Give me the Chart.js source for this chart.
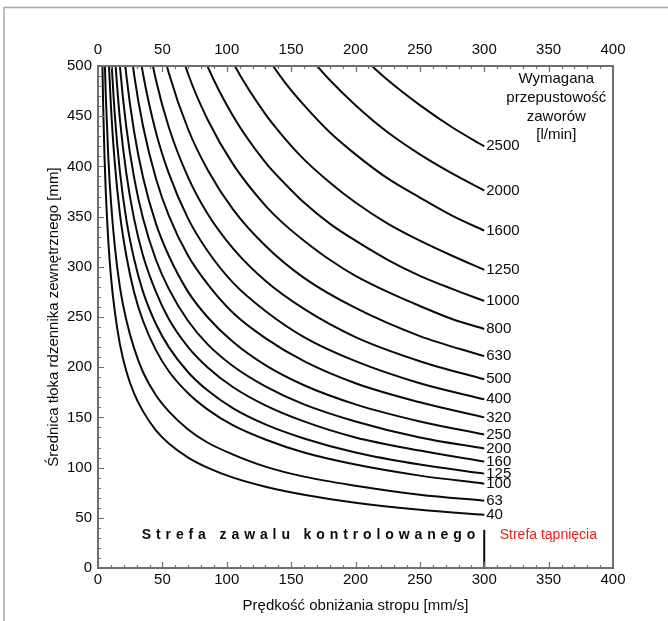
<!DOCTYPE html>
<html>
<head>
<meta charset="utf-8">
<script src="https://cdn.jsdelivr.net/npm/chart.js@4.4.1/dist/chart.umd.min.js"></script>
<style>
  html, body { margin: 0; padding: 0; background: #fff; }
  #wrap { width: 668px; height: 621px; }
</style>
</head>
<body>
<div id="wrap"><canvas id="chart" width="668" height="621"></canvas></div>
<script>
// ── Data ─────────────────────────────────────────────────
// speeds [mm/s] where the diameters were read
const speeds = [3, 4, 5, 6, 8, 10, 13, 17, 22, 28, 35, 45, 55, 70, 85, 105, 130, 145, 160, 180, 200, 225, 250, 275, 300];

// required valve flow [l/min] for each curve
const flows = [40, 63, 100, 125, 160, 200, 250, 320, 400, 500, 630, 800, 1000, 1250, 1600, 2000, 2500];

// piston diameter [mm] along each curve (null = not read there)
const d40   = [532, 461, 412, 376, 326, 291, 256, 223, 196, 174, 156, 137, 124, 110, 100, 90, 81, null, 73, null, 65, null, 58, null, 53];
const d63   = [null, 578, 517, 472, 409, 366, 321, 280, 247, 219, 195, 172, 156, 138, 125, 113, 101, null, 91, null, 82, null, 73, null, 67];
const d100  = [null, null, null, null, 515, 461, 404, 353, 311, 275, 246, 217, 196, 174, 158, 142, 128, null, 115, null, 103, null, 92, null, 84];
const d125  = [null, null, null, null, null, 515, 452, 395, 347, 308, 275, 243, 220, 195, 177, 159, 143, null, 129, null, 115, null, 103, null, 94];
const d160  = [null, null, null, null, null, null, 511, 447, 393, 348, 311, 275, 248, 220, 200, 180, 162, null, 146, null, 130, null, 117, null, 106];
const d200  = [null, null, null, null, null, null, 571, 500, 439, 389, 348, 307, 278, 246, 223, 201, 181, null, 163, null, 146, null, 130, null, 119];
const d250  = [null, null, null, null, null, null, null, 559, 491, 435, 389, 343, 311, 275, 250, 225, 202, null, 182, null, 163, null, 146, null, 133];
const d320  = [null, null, null, null, null, null, null, null, 556, 492, 440, 388, 351, 311, 283, 254, 229, null, 206, null, 184, null, 165, null, 150];
const d400  = [null, null, null, null, null, null, null, null, null, 551, 492, 434, 393, 348, 316, 284, 256, null, 230, null, 206, null, 184, null, 168];
const d500  = [null, null, null, null, null, null, null, null, null, null, 551, 486, 439, 389, 353, 318, 286, null, 258, null, 230, null, 206, null, 188];
const d630  = [null, null, null, null, null, null, null, null, null, null, null, 545, 493, 437, 397, 357, 321, null, 289, null, 259, null, 231, null, 211];
const d800  = [null, null, null, null, null, null, null, null, null, null, null, null, 556, 492, 447, 402, 361, 342, 326, 307, 291, 275, 261, 248, 238];
const d1000 = [null, null, null, null, null, null, null, null, null, null, null, null, null, 551, 500, 450, 404, 383, 364, 343, 326, 307, 291, 278, 266];
const d1250 = [null, null, null, null, null, null, null, null, null, null, null, null, null, null, 559, 503, 452, 428, 407, 384, 364, 343, 326, 311, 297];
const d1600 = [null, null, null, null, null, null, null, null, null, null, null, null, null, null, null, null, 511, 484, 461, 434, 412, 388, 369, 351, 336];
const d2000 = [null, null, null, null, null, null, null, null, null, null, null, null, null, null, null, null, null, null, 515, 486, 461, 434, 412, 393, 376];
const d2500 = [null, null, null, null, null, null, null, null, null, null, null, null, null, null, null, null, null, null, null, null, 515, 486, 461, 439, 420];

const diameters = [d40, d63, d100, d125, d160, d200, d250, d320, d400, d500, d630, d800, d1000, d1250, d1600, d2000, d2500];

// boundary between the two zones
const zoneSpeed  = [300, 300];
const zoneHeight = [0, 38];

const xTicks = [0, 400, 50];   // min, max, step
const yTicks = [0, 500, 50];

// ── Styling ───────────────────────────────────────────────
const FONT  = "'Liberation Sans', Arial, sans-serif";
const FRAME = "#6e6e6e";
const INK   = "#0a0a0a";

const toPoints = (ys) => speeds
  .map((v, i) => ({ x: v, y: ys[i] }))
  .filter(p => p.y !== null);

const datasets = diameters.map((ys, i) => ({
  label: String(flows[i]),
  data: toPoints(ys),
  borderColor: INK,
  borderWidth: 2,
  pointRadius: 0,
  cubicInterpolationMode: "monotone",
  fill: false,
}));

datasets.push({
  label: "zone",
  data: zoneSpeed.map((v, i) => ({ x: v, y: zoneHeight[i] })),
  borderColor: INK,
  borderWidth: 2,
  pointRadius: 0,
  fill: false,
});

// ── Frame, inward ticks and annotations ──────────────────
const nomogramDecor = {
  id: "nomogramDecor",
  beforeDraw(chart) {
    const { ctx, width, height } = chart;
    ctx.save();
    ctx.fillStyle = "#fff";
    ctx.fillRect(0, 0, width, height);
    ctx.strokeStyle = "#a8a8a8";
    ctx.lineWidth = 1.5;
    ctx.beginPath();
    ctx.moveTo(4, height);
    ctx.lineTo(4, 7.5);
    ctx.lineTo(width, 7.5);
    ctx.stroke();
    ctx.restore();
  },
  afterDatasetsDraw(chart) {
    const { ctx, chartArea: a, scales: { x, y } } = chart;
    ctx.save();

    // curve labels at the end of each curve
    ctx.fillStyle = INK;
    ctx.font = `15px ${FONT}`;
    ctx.textAlign = "left";
    ctx.textBaseline = "middle";
    diameters.forEach((ys, i) => {
      const last = ys[ys.length - 1];
      const px = x.getPixelForValue(speeds[speeds.length - 1]) + 2;
      const py = y.getPixelForValue(last);
      ctx.fillText(String(flows[i]), px, py);
    });

    // legend heading
    ctx.textAlign = "center";
    const hx = x.getPixelForValue(356);
    let hy = y.getPixelForValue(487);
    ["Wymagana", "przepustowość", "zaworów", "[l/min]"].forEach(line => {
      ctx.fillText(line, hx, hy);
      hy += 18.7;
    });

    // zone captions
    const zy = y.getPixelForValue(33);
    ctx.font = `bold 14px ${FONT}`;
    const cap = "Strefa zawalu kontrolowanego";
    const x0 = x.getPixelForValue(34), x1 = x.getPixelForValue(293);
    const plain = ctx.measureText(cap).width;
    ctx.letterSpacing = ((x1 - x0 - plain) / (cap.length - 1)).toFixed(2) + "px";
    ctx.textAlign = "left";
    ctx.fillText(cap, x0, zy);
    ctx.letterSpacing = "0px";

    ctx.font = `14px ${FONT}`;
    ctx.fillStyle = "#f01c1c";
    ctx.fillText("Strefa tąpnięcia", x.getPixelForValue(312), zy);

    // frame
    ctx.strokeStyle = FRAME;
    ctx.lineWidth = 2;
    ctx.strokeRect(a.left, a.top, a.right - a.left, a.bottom - a.top);

    // inward ticks
    ctx.lineWidth = 1.2;
    ctx.beginPath();
    for (let v = xTicks[0]; v <= xTicks[1]; v += 10) {
      const px = Math.round(x.getPixelForValue(v)) + 0.5;
      const len = v % xTicks[2] === 0 ? 6 : 3;
      ctx.moveTo(px, a.bottom); ctx.lineTo(px, a.bottom - len);
      ctx.moveTo(px, a.top);    ctx.lineTo(px, a.top + len);
    }
    for (let v = yTicks[0]; v <= yTicks[1]; v += 10) {
      const py = Math.round(y.getPixelForValue(v)) + 0.5;
      const len = v % yTicks[2] === 0 ? 6 : 3;
      ctx.moveTo(a.left, py); ctx.lineTo(a.left + len, py);
    }
    ctx.stroke();
    ctx.restore();
  },
};

// ── Chart ─────────────────────────────────────────────────
const tickFont = { family: FONT, size: 15 };

new Chart(document.getElementById("chart"), {
  type: "line",
  data: { datasets },
  plugins: [nomogramDecor],
  options: {
    responsive: false,
    animation: false,
    layout: { padding: { left: 0, right: 55, top: 0, bottom: 0 } },
    plugins: {
      legend: { display: false },
      tooltip: { enabled: false },
    },
    scales: {
      x: {
        type: "linear",
        position: "bottom",
        min: xTicks[0], max: xTicks[1],
        ticks: { stepSize: xTicks[2], color: INK, font: tickFont, padding: 3, maxRotation: 0, autoSkip: false },
        grid: { display: false, drawTicks: false },
        border: { display: false },
        title: {
          display: true,
          text: "Prędkość obniżania stropu [mm/s]",
          color: INK,
          font: tickFont,
          padding: { top: 0, bottom: 6 },
        },
        afterFit: (s) => { s.height = 53; },
      },
      x2: {
        type: "linear",
        position: "top",
        min: xTicks[0], max: xTicks[1],
        ticks: { stepSize: xTicks[2], color: INK, font: tickFont, padding: 7, maxRotation: 0, autoSkip: false },
        grid: { display: false, drawTicks: false },
        border: { display: false },
        afterFit: (s) => { s.height = 66; },
      },
      y: {
        type: "linear",
        position: "left",
        min: yTicks[0], max: yTicks[1],
        ticks: { stepSize: yTicks[2], color: INK, font: tickFont, padding: 6 },
        grid: { display: false, drawTicks: false },
        border: { display: false },
        title: {
          display: true,
          text: "Średnica tłoka rdzennika zewnętrznego [mm]",
          color: INK,
          font: tickFont,
          padding: { top: 45, bottom: 0 },
        },
        afterFit: (s) => { s.width = 98; },
      },
    },
  },
});
</script>
</body>
</html>
